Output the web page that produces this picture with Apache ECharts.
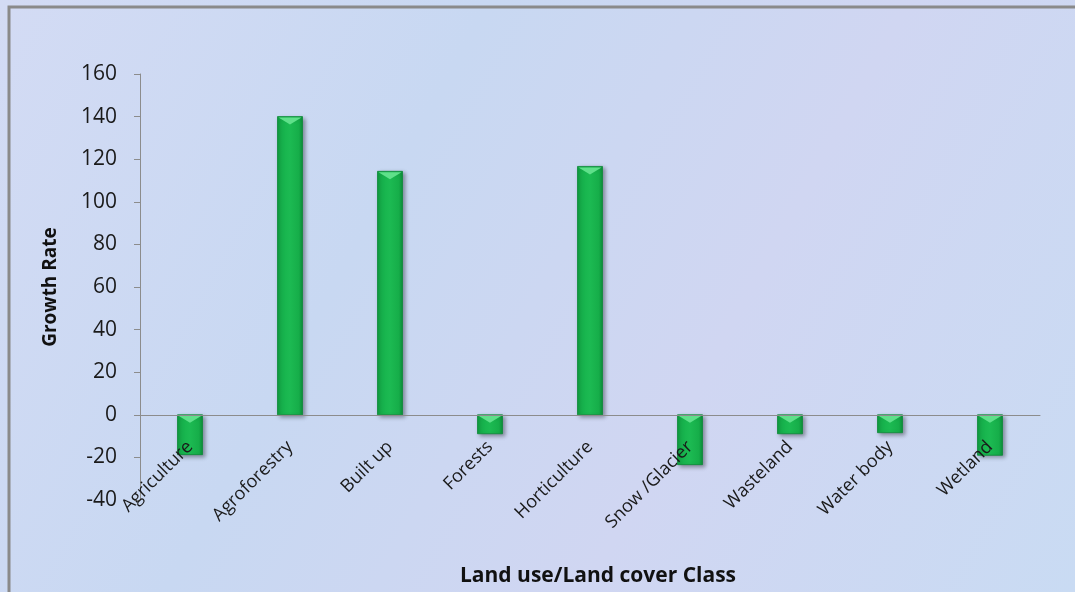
<!DOCTYPE html>
<html>
<head>
<meta charset="utf-8">
<script src="https://cdn.jsdelivr.net/npm/echarts@6/dist/echarts.min.js"></script>
<style>
html,body{margin:0;padding:0;}
#chart{width:1075px;height:592px;}
</style>
</head>
<body>
<div id="chart"></div>
<script>
const categories = ['Agriculture','Agroforestry','Built up','Forests','Horticulture','Snow /Glacier','Wasteland','Water body','Wetland'];
const growthRate = [-18.7, 140, 114.3, -8.9, 116.6, -23.4, -8.9, -8.4, -19];
const yTicks = { min: -40, max: 160, interval: 20 };

const chart = echarts.init(document.getElementById('chart'));
const font = '"Open Sans", "Noto Sans", sans-serif';

chart.setOption({
  animation: false,
  backgroundColor: {
    type: 'linear', x: 0, y: 0, x2: 1, y2: 1,
    colorStops: [
      {offset: 0, color: '#d3dbf4'},
      {offset: 0.35, color: '#c8d8f2'},
      {offset: 0.65, color: '#d0d6f2'},
      {offset: 1, color: '#c9dbf3'}
    ]
  },
  graphic: [{
    type: 'rect', shape: {x: 9, y: 7, width: 1080, height: 600},
    style: {fill: 'none', stroke: '#8a8a8a', lineWidth: 3}, silent: true, z: 100
  }],
  grid: {left: 140, right: 35, top: 74, bottom: 92, containLabel: false, outerBoundsMode: 'none'},
  xAxis: {
    type: 'category',
    data: categories,
    z: 5,
    name: 'Land use/Land cover Class',
    nameLocation: 'middle',
    nameGap: 66,
    nameTextStyle: {fontFamily: font, fontWeight: 'bold', fontSize: 21, color: '#111', padding: [0, 0, 0, 16]},
    axisLine: {onZero: true, lineStyle: {color: '#8c8c8c', width: 1}},
    axisTick: {show: false},
    axisLabel: {rotate: 45, fontFamily: font, fontSize: 18, color: '#1a1a1a', margin: -56, interval: 0}
  },
  yAxis: {
    type: 'value',
    min: yTicks.min, max: yTicks.max, interval: yTicks.interval,
    name: 'Growth Rate',
    nameLocation: 'middle',
    nameGap: 80,
    nameTextStyle: {fontFamily: font, fontWeight: 'bold', fontSize: 19, color: '#111'},
    axisLine: {show: true, lineStyle: {color: '#8c8c8c', width: 1}},
    axisTick: {show: true, length: 6, lineStyle: {color: '#8c8c8c'}},
    splitLine: {show: false},
    axisLabel: {fontFamily: font, fontSize: 21, color: '#1a1a1a', margin: 23}
  },
  series: [{
    type: 'custom',
    z: 2,
    data: growthRate.map((v, i) => [i, v]),
    encode: {x: 0, y: 1},
    renderItem: function (params, api) {
      const idx = api.value(0), val = api.value(1);
      const top = api.coord([idx, Math.max(val, 0)]);
      const bot = api.coord([idx, Math.min(val, 0)]);
      const w = 25;
      const x0 = top[0] - w / 2;
      const h = bot[1] - top[1];
      const bev = Math.min(8, h / 2);
      return {
        type: 'group',
        children: [
          {
            type: 'rect',
            shape: {x: x0, y: top[1], width: w, height: h},
            style: {
              fill: {
                type: 'linear', x: 0, y: 0, x2: 1, y2: 0,
                colorStops: [
                  {offset: 0, color: '#0e9a3f'},
                  {offset: 0.15, color: '#16b24c'},
                  {offset: 0.5, color: '#1cba52'},
                  {offset: 0.85, color: '#16ad49'},
                  {offset: 1, color: '#0c8d39'}
                ]
              },
              stroke: '#0b8a37', lineWidth: 0.8,
              shadowBlur: 4, shadowOffsetX: 2, shadowOffsetY: 2, shadowColor: 'rgba(0,0,0,0.35)'
            }
          },
          {
            type: 'polygon',
            shape: {points: [[x0 + 1, top[1] + 1], [x0 + w - 1, top[1] + 1], [top[0], top[1] + bev]]},
            style: {fill: '#5fe08a'}
          }
        ]
      };
    }
  }]
});
</script>
</body>
</html>
